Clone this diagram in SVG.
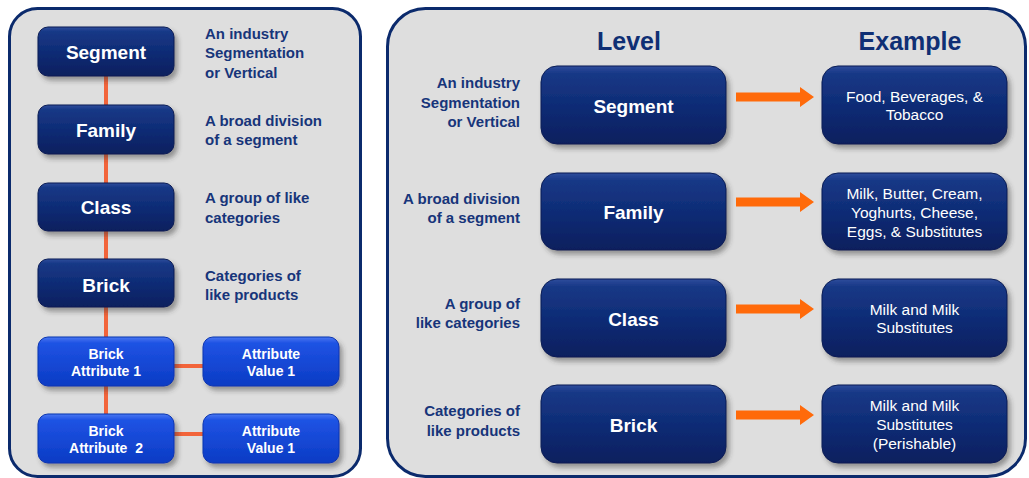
<svg xmlns="http://www.w3.org/2000/svg" width="1029" height="478" viewBox="0 0 1029 478">
<defs>
<linearGradient id="navy" x1="0" y1="0" x2="0" y2="1">
<stop offset="0" stop-color="#2d4c9c"/>
<stop offset="0.1" stop-color="#173886"/>
<stop offset="0.5" stop-color="#0f2c76"/>
<stop offset="1" stop-color="#0a1f5e"/>
</linearGradient>
<linearGradient id="blue" x1="0" y1="0" x2="0" y2="1">
<stop offset="0" stop-color="#4a78f2"/>
<stop offset="0.12" stop-color="#1f53e4"/>
<stop offset="1" stop-color="#0b3bc4"/>
</linearGradient>
<filter id="sh" x="-10%" y="-10%" width="125%" height="135%">
<feDropShadow dx="3" dy="4" stdDeviation="2.5" flood-color="#333" flood-opacity="0.45"/>
</filter>
</defs>
<style>
.panel{fill:#dedede;stroke:#0b2a6c;stroke-width:3}
.nv{fill:url(#navy);stroke:#0a1d55;stroke-width:1;filter:url(#sh)}
.bl{fill:url(#blue);stroke:#0a34b0;stroke-width:1;filter:url(#sh)}
.nt{font-family:"Liberation Sans",Arial,sans-serif;font-weight:bold;font-size:19px;fill:#fff;text-anchor:middle}
.st{font-family:"Liberation Sans",Arial,sans-serif;font-weight:bold;font-size:14px;fill:#fff;text-anchor:middle}
.et{font-family:"Liberation Sans",Arial,sans-serif;font-size:15.5px;fill:#fff;text-anchor:middle}
.lb{font-family:"Liberation Sans",Arial,sans-serif;font-weight:bold;font-size:15px;fill:#17357a}
.rl{text-anchor:end}
.hd{font-family:"Liberation Sans",Arial,sans-serif;font-weight:bold;font-size:25px;fill:#0f2f74;text-anchor:middle}
.cn{stroke:#f2643a;stroke-width:4;fill:none}
.ar{fill:#ff6a0a}
</style>
<rect class="panel" x="9.5" y="8.5" width="351" height="468" rx="28"/>
<rect class="panel" x="387.5" y="8.5" width="638" height="468" rx="38"/>
<g id="connectors">
<line class="cn" x1="106" y1="76" x2="106" y2="414"/>
<line class="cn" x1="174" y1="366" x2="203" y2="366"/>
<line class="cn" x1="174" y1="434" x2="203" y2="434"/>
<path class="ar" d="M736,92.5 H800 V87 L814,97 L800,107 V101.5 H736 Z"/>
<path class="ar" d="M736,197.5 H800 V192 L814,202 L800,212 V206.5 H736 Z"/>
<path class="ar" d="M736,304.5 H800 V299 L814,309 L800,319 V313.5 H736 Z"/>
<path class="ar" d="M736,410.5 H800 V405 L814,415 L800,425 V419.5 H736 Z"/>
</g>
<g id="l-segment"><rect class="nv" x="38" y="27" width="136" height="49" rx="10"/><text class="nt" x="106" y="59">Segment</text></g>
<g id="l-family"><rect class="nv" x="38" y="105" width="136" height="49" rx="10"/><text class="nt" x="106" y="137">Family</text></g>
<g id="l-class"><rect class="nv" x="38" y="183" width="136" height="48" rx="10"/><text class="nt" x="106" y="214">Class</text></g>
<g id="l-brick"><rect class="nv" x="38" y="259" width="136" height="48" rx="10"/><text class="nt" x="106" y="292">Brick</text></g>
<g id="l-ba1"><rect class="bl" x="38" y="337" width="136" height="49" rx="10"/><text class="st" x="106" y="359">Brick</text><text class="st" x="106" y="376">Attribute 1</text></g>
<g id="l-av1"><rect class="bl" x="203" y="337" width="136" height="49" rx="10"/><text class="st" x="271" y="359">Attribute</text><text class="st" x="271" y="376">Value 1</text></g>
<g id="l-ba2"><rect class="bl" x="38" y="414" width="136" height="49" rx="10"/><text class="st" x="106" y="436">Brick</text><text class="st" x="106" y="453" xml:space="preserve">Attribute  2</text></g>
<g id="l-av2"><rect class="bl" x="203" y="414" width="136" height="49" rx="10"/><text class="st" x="271" y="436">Attribute</text><text class="st" x="271" y="453">Value 1</text></g>
<g id="l-labels">
<text class="lb" x="205" y="39">An industry</text>
<text class="lb" x="205" y="58">Segmentation</text>
<text class="lb" x="205" y="78">or Vertical</text>
<text class="lb" x="205" y="126">A broad division</text>
<text class="lb" x="205" y="145">of a segment</text>
<text class="lb" x="205" y="203">A group of like</text>
<text class="lb" x="205" y="223">categories</text>
<text class="lb" x="205" y="281">Categories of</text>
<text class="lb" x="205" y="300">like products</text>
</g>
<g id="headers">
<text class="hd" x="629" y="50">Level</text>
<text class="hd" x="910" y="50">Example</text>
</g>
<g id="r-labels">
<text class="lb rl" x="520" y="88">An industry</text>
<text class="lb rl" x="520" y="108">Segmentation</text>
<text class="lb rl" x="520" y="127">or Vertical</text>
<text class="lb rl" x="520" y="204">A broad division</text>
<text class="lb rl" x="520" y="223">of a segment</text>
<text class="lb rl" x="520" y="309">A group of</text>
<text class="lb rl" x="520" y="328">like categories</text>
<text class="lb rl" x="520" y="416">Categories of</text>
<text class="lb rl" x="520" y="436">like products</text>
</g>
<g id="r-segment"><rect class="nv" x="541" y="66" width="185" height="78" rx="16"/><text class="nt" x="633.5" y="113">Segment</text></g>
<g id="r-family"><rect class="nv" x="541" y="173" width="185" height="77" rx="16"/><text class="nt" x="633.5" y="219">Family</text></g>
<g id="r-class"><rect class="nv" x="541" y="279" width="185" height="78" rx="16"/><text class="nt" x="633.5" y="326">Class</text></g>
<g id="r-brick"><rect class="nv" x="541" y="385" width="185" height="78" rx="16"/><text class="nt" x="633.5" y="432">Brick</text></g>
<g id="e-segment"><rect class="nv" x="822" y="66" width="185" height="78" rx="16"/><text class="et" x="914.5" y="102">Food, Beverages, &amp;</text><text class="et" x="914.5" y="120">Tobacco</text></g>
<g id="e-family"><rect class="nv" x="822" y="173" width="185" height="77" rx="16"/><text class="et" x="914.5" y="199">Milk, Butter, Cream,</text><text class="et" x="914.5" y="218">Yoghurts, Cheese,</text><text class="et" x="914.5" y="237">Eggs, &amp; Substitutes</text></g>
<g id="e-class"><rect class="nv" x="822" y="279" width="185" height="78" rx="16"/><text class="et" x="914.5" y="315">Milk and Milk</text><text class="et" x="914.5" y="333">Substitutes</text></g>
<g id="e-brick"><rect class="nv" x="822" y="385" width="185" height="78" rx="16"/><text class="et" x="914.5" y="411">Milk and Milk</text><text class="et" x="914.5" y="430">Substitutes</text><text class="et" x="914.5" y="449">(Perishable)</text></g>
</svg>
